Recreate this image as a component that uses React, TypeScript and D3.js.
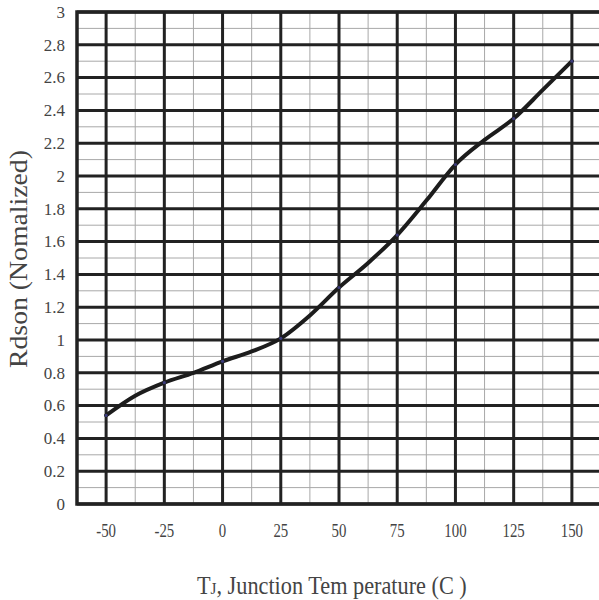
import React, { useEffect, useRef } from "react";
import * as d3 from "d3";

// junction temperature (C) and normalized Rdson
const temps = [-50, -37.5, -25, -12.5, 0, 12.5, 25, 37.5, 50, 62.5, 75, 87.5, 100, 112.5, 125, 137.5, 150];
const rdson = [0.54, 0.66, 0.74, 0.8, 0.87, 0.93, 1.01, 1.15, 1.32, 1.47, 1.64, 1.85, 2.07, 2.22, 2.35, 2.525, 2.7];

const xTicks = [-50, -25, 0, 25, 50, 75, 100, 125, 150];
const yTicks = [0, 0.2, 0.4, 0.6, 0.8, 1, 1.2, 1.4, 1.6, 1.8, 2, 2.2, 2.4, 2.6, 2.8, 3];

const W = 599;
const H = 600;

const App: React.FC = () => {
  const svgRef = useRef<SVGSVGElement>(null);

  useEffect(() => {
    if (!svgRef.current) return;
    const svg = d3.select(svgRef.current).html("");

    const x = d3.scaleLinear().domain([-62.5, 162.5]).range([77, 601]);
    const y = d3.scaleLinear().domain([0, 3]).range([504, 12]);

    const font = "'Liberation Serif', 'Times New Roman', serif";
    const textColor = "#444";

    svg.append("rect")
      .attr("x", x(-62.5)).attr("y", y(3))
      .attr("width", x(162.5) - x(-62.5)).attr("height", y(0) - y(3))
      .attr("fill", "#fff");

    // minor grid
    const minorX = d3.range(-37.5, 162.5, 25);
    const minorY = d3.range(0.1, 3, 0.2);
    svg.append("g").selectAll("line").data(minorX).join("line")
      .attr("x1", d => x(d)).attr("x2", d => x(d))
      .attr("y1", y(0)).attr("y2", y(3))
      .attr("stroke", "#a8a8a8").attr("stroke-width", 1);
    svg.append("g").selectAll("line").data(minorY).join("line")
      .attr("x1", x(-62.5)).attr("x2", x(162.5))
      .attr("y1", d => y(d)).attr("y2", d => y(d))
      .attr("stroke", "#a8a8a8").attr("stroke-width", 1);

    // major grid
    svg.append("g").selectAll("line").data(xTicks).join("line")
      .attr("x1", d => x(d)).attr("x2", d => x(d))
      .attr("y1", y(0)).attr("y2", y(3))
      .attr("stroke", "#222").attr("stroke-width", 3);
    svg.append("g").selectAll("line").data(yTicks).join("line")
      .attr("x1", x(-62.5)).attr("x2", x(162.5))
      .attr("y1", d => y(d)).attr("y2", d => y(d))
      .attr("stroke", "#222").attr("stroke-width", 3);

    // frame
    svg.append("rect")
      .attr("x", x(-62.5)).attr("y", y(3))
      .attr("width", x(162.5) - x(-62.5)).attr("height", y(0) - y(3))
      .attr("fill", "none").attr("stroke", "#222").attr("stroke-width", 3.5);

    // curve
    const pts = temps.map((t, i) => [t, rdson[i]] as [number, number]);
    const line = d3.line<[number, number]>()
      .x(d => x(d[0]))
      .y(d => y(d[1]))
      .curve(d3.curveMonotoneX);
    svg.append("path")
      .datum(pts)
      .attr("fill", "none")
      .attr("stroke", "#1c1c1c")
      .attr("stroke-width", 4)
      .attr("stroke-linecap", "round")
      .attr("d", line);

    // small markers at the major temperatures
    svg.append("g").selectAll("circle")
      .data(pts.filter(d => xTicks.includes(d[0])))
      .join("circle")
      .attr("cx", d => x(d[0])).attr("cy", d => y(d[1]))
      .attr("r", 1.6).attr("fill", "#3b3b7a");

    // y tick labels
    svg.append("g").selectAll("text").data(yTicks).join("text")
      .attr("x", 65).attr("y", d => y(d))
      .attr("dy", "0.34em")
      .attr("text-anchor", "end")
      .attr("font-family", font).attr("font-size", 17)
      .attr("fill", textColor)
      .text(d => String(d));

    // x tick labels
    svg.append("g").selectAll("text").data(xTicks).join("text")
      .attr("transform", d => `translate(${x(d)},537) scale(0.78,1)`)
      .attr("text-anchor", "middle")
      .attr("font-family", font).attr("font-size", 19)
      .attr("fill", textColor)
      .text(d => String(d));

    // x title, squeezed horizontally to the reference width
    const xt = svg.append("text")
      .attr("font-family", font).attr("font-size", 25)
      .attr("fill", textColor);
    xt.append("tspan").text("T");
    xt.append("tspan").attr("font-size", 17).text("J");
    xt.append("tspan").text(", Junction Tem perature (C )");
    const xw = (xt.node() as SVGTextElement).getComputedTextLength() || 300;
    xt.attr("transform", `translate(197,594) scale(${270 / xw},1)`);

    // y title
    const yt = svg.append("text")
      .attr("font-family", font).attr("font-size", 25)
      .attr("fill", textColor)
      .text("Rdson (Nomalized)");
    const yw = (yt.node() as SVGTextElement).getComputedTextLength() || 200;
    yt.attr("transform", `translate(27,368) rotate(-90) scale(${218 / yw},1)`);
  }, []);

  return (
    <svg
      ref={svgRef}
      width={W}
      height={H}
      style={{ position: "absolute", left: 0, top: 0, background: "#fff" }}
    />
  );
};

export default App;
